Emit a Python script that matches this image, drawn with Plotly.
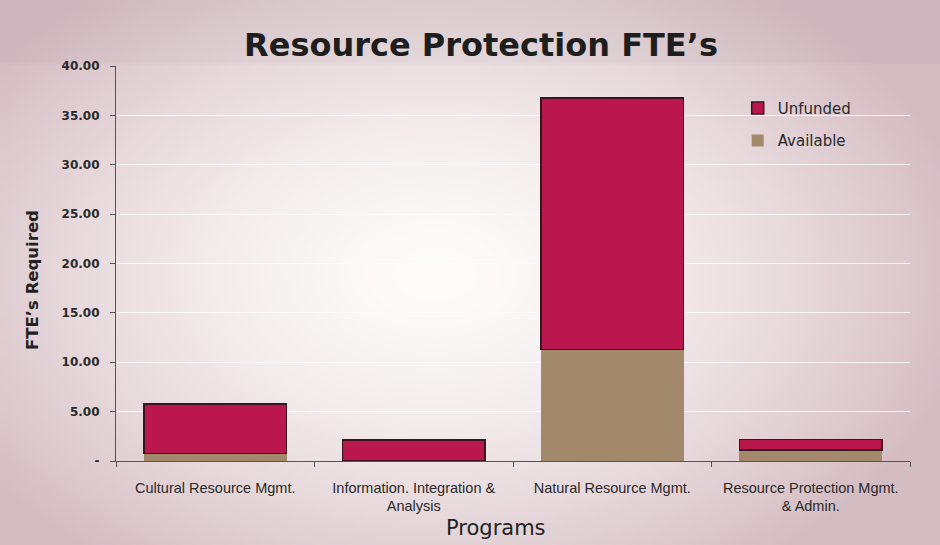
import base64, zlib, struct
import numpy as np
import plotly.graph_objects as go

programs = ["Cultural Resource Mgmt.", "Information. Integration &<br>Analysis",
            "Natural Resource Mgmt.", "Resource Protection Mgmt.<br>& Admin."]
available = [0.78, 0.0, 11.3, 1.1]
unfunded = [4.97, 2.12, 25.45, 1.1]
y_ticks = [0, 5, 10, 15, 20, 25, 30, 35, 40]
y_labels = ["-", "5.00", "10.00", "15.00", "20.00", "25.00", "30.00", "35.00", "40.00"]

W, H = 940, 545
ML, MR, MT, MB = 116, 30, 66, 84
PW, PH = W - ML - MR, H - MT - MB

# background gradient image (style only)
def make_png(arr):
    h, w, _ = arr.shape
    raw = b"".join(b"\x00" + arr[i].tobytes() for i in range(h))
    def chunk(t, d):
        c = struct.pack(">I", len(d)) + t + d
        return c + struct.pack(">I", zlib.crc32(t + d) & 0xffffffff)
    png = b"\x89PNG\r\n\x1a\n" + chunk(b"IHDR", struct.pack(">IIBBBBB", w, h, 8, 2, 0, 0, 0))
    png += chunk(b"IDAT", zlib.compress(raw, 9)) + chunk(b"IEND", b"")
    return "data:image/png;base64," + base64.b64encode(png).decode()

gw, gh = 235, 137
yy, xx = np.mgrid[0:gh, 0:gw]
cx, cy = 0.46 * gw, 0.5 * gh
d = np.sqrt(((xx - cx) / (0.58 * gw)) ** 2 + ((yy - cy) / (0.66 * gh)) ** 2)
t = np.clip(d, 0, 1) ** 1.5
edge = np.array([212, 188, 195], dtype=float)
center = np.array([254, 252, 251], dtype=float)
img = center[None, None, :] * (1 - t[..., None]) + edge[None, None, :] * t[..., None]
strip = (yy < gh * 0.11)
img[strip] = img[strip] * 0.97
img = np.clip(img, 0, 255).astype(np.uint8)
bg = make_png(img)

fig = go.Figure()
fig.add_bar(x=programs, y=available, name="Available", legendgroup="a", legendrank=2,
            marker=dict(color="#a3896b", line=dict(width=0)))
fig.add_bar(x=programs, y=unfunded, name="Unfunded", legendgroup="u", legendrank=1,
            marker=dict(color="#b9174d", line=dict(color="#3a1420", width=1.5)))

fig.update_layout(
    width=W, height=H,
    margin=dict(l=ML, r=MR, t=MT, b=MB),
    barmode="stack", bargap=0.28,
    paper_bgcolor="#e8d8db", plot_bgcolor="rgba(0,0,0,0)",
    font=dict(family="DejaVu Sans, Liberation Sans, Arial, sans-serif", color="#2a2a2a"),
    title=dict(text="<b>Resource Protection FTE’s</b>", x=481 / W, xanchor="center",
               y=1 - 45 / H, yanchor="middle",
               font=dict(size=32, color="#1e1e1e", family="DejaVu Sans, sans-serif")),
    showlegend=True,
    legend=dict(x=0.783, y=0.935, xanchor="left", yanchor="top", traceorder="grouped",
                bgcolor="rgba(0,0,0,0)", font=dict(size=15, color="#2a2a2a"),
                itemwidth=30, tracegroupgap=10),
    images=[dict(source=bg, xref="paper", yref="paper", x=-ML / PW, y=1 + MT / PH,
                 sizex=W / PW, sizey=H / PH, sizing="stretch", layer="below",
                 xanchor="left", yanchor="top")],
    annotations=[
        dict(text="Programs", xref="paper", yref="paper", x=(496 - ML) / PW,
             y=-(528 - MT - PH) / PH, xanchor="center", yanchor="middle", showarrow=False,
             font=dict(size=21, color="#222")),
        dict(text="<b>FTE’s Required</b>", xref="paper", yref="paper", x=-(ML - 32) / PW,
             y=1 - (280 - MT) / PH, xanchor="center", yanchor="middle", showarrow=False,
             textangle=-90, font=dict(size=16.5, color="#222")),
    ],
)
fig.update_xaxes(showline=True, linecolor="#555", linewidth=1.2, ticks="outside",
                 tickcolor="#555", ticklen=5, tickson="boundaries", ticklabelstandoff=13,
                 tickfont=dict(size=14.5, color="#2a2a2a", family="Liberation Sans, Arial, sans-serif"))
fig.update_yaxes(range=[0, 40], tickvals=y_ticks, ticktext=y_labels,
                 showline=True, linecolor="#555", linewidth=1.2, ticks="outside",
                 tickcolor="#555", ticklen=5, showgrid=True, gridcolor="rgba(255,255,255,0.75)",
                 gridwidth=1, zeroline=False, ticklabelstandoff=8,
                 tickfont=dict(size=12, color="#2a2a2a", weight="bold"))

fig.write_html("out.html")
